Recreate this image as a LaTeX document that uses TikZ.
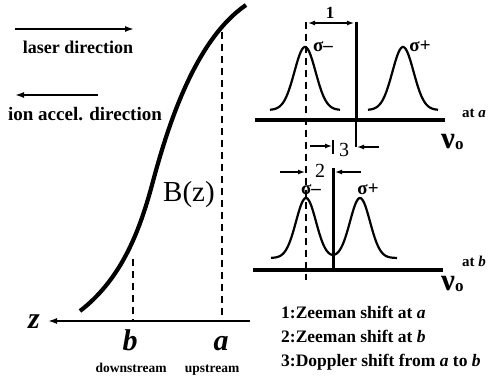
\documentclass[tikz,border=0pt]{standalone}
\usepackage{fontspec}
\newfontfamily\tnr{Liberation Serif}
\usetikzlibrary{arrows.meta}
\begin{document}
\begin{tikzpicture}[x=1pt,y=-1pt,
  lbl/.style={font=\tnr\bfseries\fontsize{18}{18}\selectfont, inner sep=0pt, anchor=base},
  leg/.style={font=\tnr\bfseries\fontsize{17.5}{17.5}\selectfont, inner sep=0pt, anchor=base west},
  small/.style={font=\tnr\bfseries\fontsize{13.5}{13.5}\selectfont, inner sep=0pt, anchor=base},
  atlbl/.style={font=\tnr\bfseries\fontsize{15}{15}\selectfont, inner sep=0pt, anchor=base west, text height=10pt, text depth=0pt},
  ital/.style={font=\tnr\bfseries\itshape\fontsize{30}{30}\selectfont, inner sep=0pt, anchor=base},
  sig/.style={font=\tnr\bfseries\fontsize{19}{19}\selectfont, inner sep=0pt, anchor=base, text height=9pt, text depth=0pt},
  num/.style={font=\tnr\fontsize{20}{20}\selectfont, inner sep=0pt, anchor=base, text height=14pt, text depth=0pt},
  nu/.style={font=\tnr\bfseries\fontsize{31}{31}\selectfont, inner sep=0pt, anchor=base west, text height=15pt, text depth=1pt},
  dirarrow/.style={line width=1.6pt, -{Latex[length=9pt,width=6pt]}},
  dimarrow/.style={line width=1.3pt, -{Latex[length=7pt,width=5pt]}},
  dashln/.style={line width=1.4pt, dash pattern=on 7pt off 5pt},
  baseln/.style={line width=4.5pt},
  vbar/.style={line width=3pt},
  thinln/.style={line width=1.3pt},
  peak/.style={line width=2.2pt}]
\useasboundingbox (0,0) rectangle (493,378);

% direction arrows
\coordinate (L1) at (15,29); \coordinate (L2) at (134,29);
\draw[dirarrow] (L1) -- (L2);
\node[lbl] (laser) at (78,53) {laser direction};
\coordinate (I1) at (98,95); \coordinate (I2) at (15,95);
\draw[dirarrow] (I1) -- (I2);
\node[lbl, font=\tnr\bfseries\fontsize{19}{19}\selectfont] (ion) at (85,120) {ion accel. direction};

% B(z) curve
\draw[line width=4.2pt] (80,311) .. controls (120,280) and (138.5,235) .. (152,185)
  .. controls (168,125) and (195,40) .. (246,5);
\node[font=\tnr\fontsize{29}{29}\selectfont, inner sep=0pt, anchor=base] (Bz) at (189,201) {B(z)};

% z axis
\coordinate (zr) at (250,321); \coordinate (zl) at (48,321);
\draw[dirarrow] (zr) -- (zl);
\node[ital] (z) at (34,328) {z};
\node[ital] (b) at (130,350) {b};
\node[ital] (a) at (221,350) {a};
\node[small] (down) at (131,372) {downstream};
\node[small] (up) at (212,372) {upstream};
\coordinate (bt) at (133,259); \coordinate (bb) at (133,321);
\draw[dashln] (bt) -- (bb);
\coordinate (at) at (222,32); \coordinate (ab) at (222,321);
\draw[dashln] (at) -- (ab);

% top spectrum
\coordinate (T1) at (255,120); \coordinate (T2) at (445,120);
\draw[baseln] (T1) -- (T2);
\coordinate (V1t) at (356,22); \coordinate (V1b) at (356,120); \coordinate (V1e) at (356,147);
\draw[vbar] (V1t) -- (V1b);
\draw[thinln] (V1b) -- (V1e);
\coordinate (Dt) at (306,22); \coordinate (Db) at (306,280);
\draw[dashln] (Dt) -- (Db);
\draw[peak] plot[domain=270:340, samples=70] (\x, {110-63*exp(-((\x-305)^2)/224)});
\draw[peak] plot[domain=368:438, samples=70] (\x, {110-63*exp(-((\x-403)^2)/224)});
\node[sig] (sm1) at (323,51) {σ–};
\node[sig] (sp1) at (420,51) {σ+};
\node[atlbl] (ata) at (462,117) {at \textit{a}};
\node[nu] (nu1) at (441,148) {ν\raisebox{-1pt}{\fontsize{17}{17}\selectfont o}};

% dimension 1
\coordinate (d1a) at (308,23); \coordinate (d1b) at (354,23);
\draw[line width=1.3pt, {Latex[length=7pt,width=5pt]}-{Latex[length=7pt,width=5pt]}] (d1a) -- (d1b);
\node[font=\tnr\bfseries\fontsize{17}{17}\selectfont, inner sep=0pt, anchor=base] (n1) at (330,18) {1};

% bottom spectrum
\coordinate (B1) at (253,270); \coordinate (B2) at (443,270);
\draw[baseln] (B1) -- (B2);
\coordinate (V2t) at (333,168); \coordinate (V2b) at (333,270);
\draw[vbar] (V2t) -- (V2b);
\coordinate (V2u) at (333,140); \coordinate (V2l) at (333,154);
\draw[thinln] (V2u) -- (V2l);
\draw[peak] plot[domain=271:397, samples=120] (\x, {258-60*(exp(-((\x-306)^2)/200)+exp(-((\x-360)^2)/200))});
\node[sig] (sm2) at (311,194) {σ–};
\node[sig] (sp2) at (368,194) {σ+};
\node[atlbl] (atb) at (462,266) {at \textit{b}};
\node[nu] (nu2) at (441,290) {ν\raisebox{-1pt}{\fontsize{17}{17}\selectfont o}};

% dimension 3
\coordinate (d3a) at (310,146); \coordinate (d3b) at (332,146);
\draw[dimarrow] (d3a) -- (d3b);
\coordinate (d3c) at (379,147); \coordinate (d3d) at (357,147);
\draw[dimarrow] (d3c) -- (d3d);
\node[num] (n3) at (344,156) {3};

% dimension 2
\coordinate (d2a) at (280,172); \coordinate (d2b) at (305,172);
\draw[dimarrow] (d2a) -- (d2b);
\coordinate (d2c) at (361,172); \coordinate (d2d) at (335,172);
\draw[dimarrow] (d2c) -- (d2d);
\node[num] (n2) at (320,177) {2};

% legend
\node[leg] (leg1) at (281,318) {1:Zeeman shift at \textit{a}};
\node[leg] (leg2) at (281,342) {2:Zeeman shift at \textit{b}};
\node[leg] (leg3) at (281,366) {3:Doppler shift from \textit{a} to \textit{b}};
\end{tikzpicture}
\end{document}
